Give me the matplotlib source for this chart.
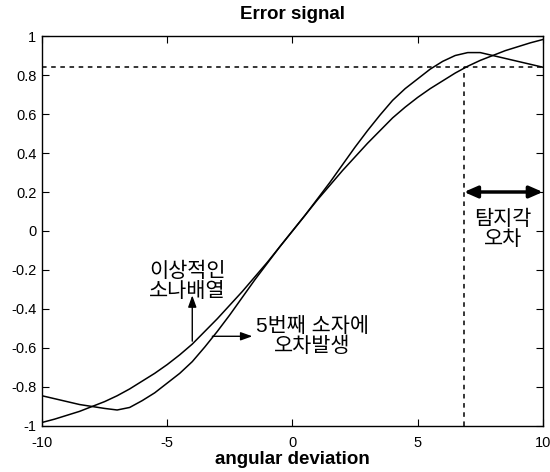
import numpy as np
import matplotlib
matplotlib.use('Agg')
import matplotlib.pyplot as plt

plt.rcParams['font.family'] = ['Liberation Sans', 'Noto Sans CJK KR', 'DejaVu Sans']

# angular deviation grid (step 0.5)
angle = np.arange(-10, 10.5, 0.5)

# ideal sonar array
ideal_neg = [-0.982, -0.965, -0.945, -0.925, -0.90, -0.875, -0.845, -0.81, -0.77, -0.73,
             -0.685, -0.635, -0.58, -0.515, -0.45, -0.38, -0.31, -0.235, -0.16, -0.08]
ideal_pos = [0, 0.08, 0.16, 0.235, 0.31, 0.38, 0.45, 0.515, 0.58, 0.635, 0.685,
             0.73, 0.77, 0.81, 0.845, 0.875, 0.90, 0.925, 0.945, 0.965, 0.982]
ideal = ideal_neg + ideal_pos

# array with error on the 5th element
faulty_neg = [-0.845, -0.86, -0.875, -0.89, -0.90, -0.91, -0.918, -0.905, -0.87, -0.83,
              -0.78, -0.73, -0.67, -0.595, -0.515, -0.43, -0.34, -0.25, -0.165, -0.08]
faulty_pos = [0, 0.08, 0.165, 0.25, 0.34, 0.43, 0.515, 0.595, 0.67, 0.73, 0.78,
              0.83, 0.87, 0.90, 0.915, 0.915, 0.90, 0.885, 0.87, 0.855, 0.84]
faulty = faulty_neg + faulty_pos

y_ticks = [-1, -0.8, -0.6, -0.4, -0.2, 0, 0.2, 0.4, 0.6, 0.8, 1]
y_tick_labels = ['-1', '-0.8', '-0.6', '-0.4', '-0.2', '0', '0.2', '0.4', '0.6', '0.8', '1']
x_ticks = [-10, -5, 0, 5, 10]

level = 0.84       # dashed reference level
cross_x = 6.85     # where the ideal curve meets that level

fig = plt.figure(figsize=(5.5, 4.72), dpi=100)
ax = fig.add_axes([0.0764, 0.0975, 0.9106, 0.8262])

ax.plot(angle, ideal, color='black', lw=1.1)
ax.plot(angle, faulty, color='black', lw=1.1)

# dashed guide lines
ax.plot([-10, 10], [level, level], color='black', lw=1.1, linestyle=(0, (3, 3)))
ax.plot([cross_x, cross_x], [-1, level], color='black', lw=1.1, linestyle=(0, (3, 3)))

# detection-angle error arrow
ax.annotate('', xy=(10, 0.2), xytext=(cross_x, 0.2),
            arrowprops=dict(arrowstyle='<|-|>,head_length=0.8,head_width=0.35',
                            color='black', lw=2.5, shrinkA=0, shrinkB=0))
ax.text(8.4, 0.01, '탐지각\n오차', ha='center', va='center', fontsize=15, linespacing=1.05)

# labels with pointer arrows
ax.annotate('', xy=(-4.0, -0.33), xytext=(-4.0, -0.565),
            arrowprops=dict(arrowstyle='-|>,head_length=0.7,head_width=0.25',
                            color='black', lw=1.0, shrinkA=0, shrinkB=0))
ax.text(-4.2, -0.26, '이상적인\n소나배열', ha='center', va='center', fontsize=15, linespacing=1.05)

ax.annotate('', xy=(-1.6, -0.54), xytext=(-3.2, -0.54),
            arrowprops=dict(arrowstyle='-|>,head_length=0.7,head_width=0.25',
                            color='black', lw=1.0, shrinkA=0, shrinkB=0))
ax.text(0.8, -0.54, '5번째 소자에\n오차발생', ha='center', va='center', fontsize=15, linespacing=1.05)

ax.set_xlim(-10, 10)
ax.set_ylim(-1, 1)
ax.set_xticks(x_ticks)
ax.set_xticklabels([str(t) for t in x_ticks])
ax.set_yticks(y_ticks)
ax.set_yticklabels(y_tick_labels)
ax.tick_params(direction='in', length=5, width=0.8, top=True, right=True, labelsize=10.5)
ax.tick_params(axis='x', pad=7)
ax.tick_params(axis='y', pad=4)
for s in ax.spines.values():
    s.set_linewidth(1.0)

ax.set_title('Error signal', fontsize=13.5, fontweight='bold', pad=12)
ax.set_xlabel('angular deviation', fontsize=13.5, fontweight='bold', labelpad=1)

fig.savefig('out.png', dpi=100)
